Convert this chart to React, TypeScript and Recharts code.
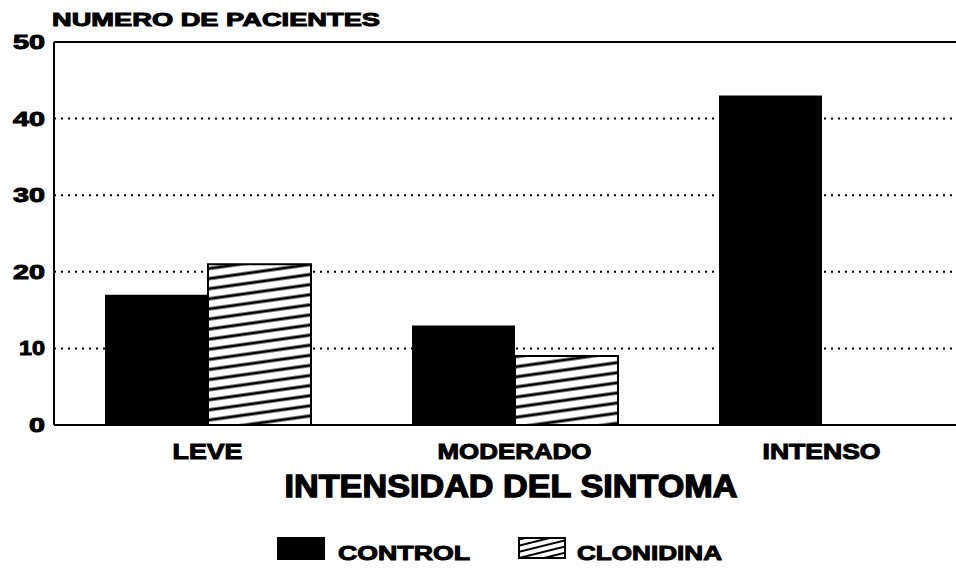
import React from 'react';
import { BarChart, Bar, XAxis, YAxis, CartesianGrid, Legend, ReferenceLine } from 'recharts';

const categories = ['LEVE', 'MODERADO', 'INTENSO'];
const controlValues = [17, 13, 43];
const clonidinaValues = [21, 9, 0];
const yTicks = [0, 10, 20, 30, 40, 50];
const seriesNames = { control: 'CONTROL', clonidina: 'CLONIDINA' };
const yTitle = 'NUMERO DE PACIENTES';
const xTitle = 'INTENSIDAD DEL SINTOMA';

const data = categories.map((c, i) => ({ name: c, control: controlValues[i], clonidina: clonidinaValues[i] }));

const FONT = '"Liberation Sans", Arial, sans-serif';

// approximate heavy-font width per character (for textLength)
const charW = (ch: string, size: number) => {
  if (ch === ' ') return size * 0.33;
  if (ch === 'I') return size * 0.36;
  if (ch === '1') return size * 0.5;
  if (ch === 'M') return size * 1.0;
  if (ch === 'L' || ch === 'E' || ch === 'T') return size * 0.72;
  return size * 0.8;
};
const textLen = (s: string, size: number) => s.split('').reduce((a, c) => a + charW(c, size), 0);

const XTick = (props: any) => {
  const { x, payload } = props;
  const s = String(payload.value);
  return (
    <text x={x} y={459} textAnchor="middle" fontFamily={FONT} fontWeight={700} fontSize={22}
      fill="#000" stroke="#000" strokeWidth={1} textLength={textLen(s, 23.6)} lengthAdjust="spacingAndGlyphs">
      {s}
    </text>
  );
};

const YTick = (props: any) => {
  const { y, payload } = props;
  const s = String(payload.value);
  return (
    <text x={45} y={y + 7} textAnchor="end" fontFamily={FONT} fontWeight={700} fontSize={21}
      fill="#000" stroke="#000" strokeWidth={1} textLength={textLen(s, 20)} lengthAdjust="spacingAndGlyphs">
      {s}
    </text>
  );
};

const LegendContent = () => (
  <div style={{ height: 63, width: 956 }}>
    <svg width={956} height={63} style={{ display: 'block' }}>
      <rect x={277} y={32} width={48} height={23} fill="#000" />
      <text x={338} y={55} fontFamily={FONT} fontWeight={700} fontSize={21} fill="#000" stroke="#000"
        strokeWidth={1} textLength={132} lengthAdjust="spacingAndGlyphs">
        {seriesNames.control}
      </text>
      <rect x={519} y={33} width={46} height={20} fill="url(#hatchLegend)" stroke="#000" strokeWidth={2} />
      <text x={577} y={55} fontFamily={FONT} fontWeight={700} fontSize={21} fill="#000" stroke="#000"
        strokeWidth={1} textLength={145} lengthAdjust="spacingAndGlyphs">
        {seriesNames.clonidina}
      </text>
    </svg>
  </div>
);

export default function App() {
  return (
    <div style={{ position: 'absolute', left: 0, top: 0, width: 956, height: 568, overflow: 'hidden', background: '#fff' }}>
      <svg width={0} height={0} style={{ position: 'absolute' }}>
        <defs>
          <pattern id="hatch" patternUnits="userSpaceOnUse" width={40} height={10} patternTransform="rotate(-8)">
            <rect x={0} y={0} width={40} height={10} fill="#fff" />
            <line x1={0} y1={5} x2={40} y2={5} stroke="#000" strokeWidth={3} />
          </pattern>
          <pattern id="hatchLegend" patternUnits="userSpaceOnUse" width={40} height={6} patternTransform="rotate(-14)">
            <rect x={0} y={0} width={40} height={6} fill="#fff" />
            <line x1={0} y1={3} x2={40} y2={3} stroke="#000" strokeWidth={2} />
          </pattern>
        </defs>
      </svg>
      <BarChart width={980} height={568} data={data} margin={{ top: 42, right: 5, left: 0, bottom: 0 }}
        barCategoryGap={51} barGap={0}>
        <CartesianGrid vertical={false} horizontal={true} stroke="#000" strokeWidth={2} strokeDasharray="2 5" />
        <ReferenceLine y={50} stroke="#000" strokeWidth={2} />
        <XAxis dataKey="name" height={80} tickLine={false} axisLine={{ stroke: '#000', strokeWidth: 2 }}
          tick={<XTick />} interval={0}
          label={{
            content: () => (
              <text x={511} y={497} textAnchor="middle" fontFamily={FONT} fontWeight={700} fontSize={31}
                fill="#000" stroke="#000" strokeWidth={1.3} textLength={453} lengthAdjust="spacingAndGlyphs">
                {xTitle}
              </text>
            ),
          }} />
        <YAxis width={54} domain={[0, 50]} ticks={yTicks} interval={0} tickLine={false}
          axisLine={{ stroke: '#000', strokeWidth: 2 }} tick={<YTick />}
          label={{
            content: () => (
              <text x={52} y={26} fontFamily={FONT} fontWeight={700} fontSize={19}
                fill="#000" stroke="#000" strokeWidth={1} textLength={328} lengthAdjust="spacingAndGlyphs">
                {yTitle}
              </text>
            ),
          }} />
        <Legend verticalAlign="bottom" height={63} content={<LegendContent />} />
        <Bar dataKey="control" name={seriesNames.control} fill="#000" isAnimationActive={false} />
        <Bar dataKey="clonidina" name={seriesNames.clonidina} fill="url(#hatch)" stroke="#000" strokeWidth={2}
          isAnimationActive={false} />
      </BarChart>
    </div>
  );
}
